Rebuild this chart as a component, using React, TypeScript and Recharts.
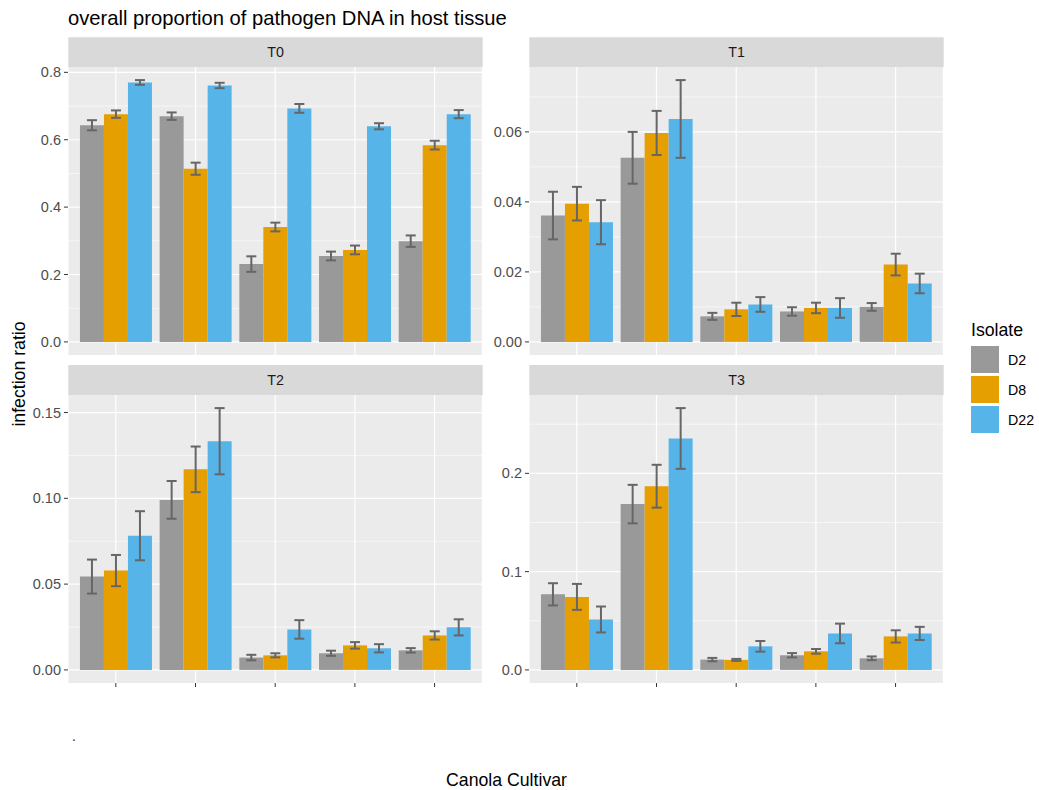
import React from 'react';
import { BarChart, Bar, XAxis, YAxis, CartesianGrid, ErrorBar } from 'recharts';

// ---------- data ----------
const cultivars = ['c1', 'c2', 'c3', 'c4', 'c5'];
const isolates = ['D2', 'D8', 'D22'];
const isolateColors = ['#999999', '#E69F00', '#56B4E9'];
const panelNames = ['T0', 'T1', 'T2', 'T3'];

// T0
const t0D2 = [0.643, 0.670, 0.231, 0.255, 0.299];
const t0D2Err = [0.015, 0.011, 0.023, 0.013, 0.017];
const t0D8 = [0.676, 0.514, 0.341, 0.273, 0.584];
const t0D8Err = [0.011, 0.018, 0.013, 0.013, 0.013];
const t0D22 = [0.770, 0.761, 0.693, 0.640, 0.676];
const t0D22Err = [0.007, 0.008, 0.013, 0.009, 0.012];

// T1
const t1D2 = [0.0361, 0.0526, 0.0073, 0.0087, 0.0100];
const t1D2Err = [0.0068, 0.0074, 0.0010, 0.0012, 0.0011];
const t1D8 = [0.0395, 0.0597, 0.0093, 0.0097, 0.0221];
const t1D8Err = [0.0048, 0.0063, 0.0019, 0.0015, 0.0031];
const t1D22 = [0.0342, 0.0637, 0.0107, 0.0097, 0.0167];
const t1D22Err = [0.0063, 0.0111, 0.0021, 0.0028, 0.0028];

// T2
const t2D2 = [0.0544, 0.0991, 0.0072, 0.0097, 0.0114];
const t2D2Err = [0.0099, 0.0110, 0.0016, 0.0015, 0.0013];
const t2D8 = [0.0579, 0.1169, 0.0085, 0.0143, 0.0201];
const t2D8Err = [0.0091, 0.0133, 0.0012, 0.0019, 0.0024];
const t2D22 = [0.0782, 0.1333, 0.0236, 0.0126, 0.0248];
const t2D22Err = [0.0143, 0.0193, 0.0054, 0.0024, 0.0047];

// T3
const t3D2 = [0.0769, 0.1687, 0.0105, 0.0149, 0.0118];
const t3D2Err = [0.0113, 0.0196, 0.0017, 0.0022, 0.0019];
const t3D8 = [0.0743, 0.1869, 0.0102, 0.0189, 0.0341];
const t3D8Err = [0.0132, 0.0218, 0.0010, 0.0024, 0.0062];
const t3D22 = [0.0513, 0.2355, 0.0240, 0.0371, 0.0371];
const t3D22Err = [0.0132, 0.0309, 0.0054, 0.0100, 0.0067];

// y ticks
const t0Ticks = [0, 0.2, 0.4, 0.6, 0.8];
const t0TickLabels = ['0.0', '0.2', '0.4', '0.6', '0.8'];
const t1Ticks = [0, 0.02, 0.04, 0.06];
const t1TickLabels = ['0.00', '0.02', '0.04', '0.06'];
const t2Ticks = [0, 0.05, 0.10, 0.15];
const t2TickLabels = ['0.00', '0.05', '0.10', '0.15'];
const t3Ticks = [0, 0.1, 0.2];
const t3TickLabels = ['0.0', '0.1', '0.2'];

const titleText = 'overall proportion of pathogen DNA in host tissue';
const yTitle = 'infection ratio';
const xTitle = 'Canola Cultivar';
const legendTitle = 'Isolate';
const captionText = '.';

// ---------- helpers ----------
const FONT = '"Liberation Sans", Arial, Helvetica, sans-serif';

function buildRows(d2: number[], d2e: number[], d8: number[], d8e: number[], d22: number[], d22e: number[]) {
  return cultivars.map((c, i) => ({
    cultivar: c,
    D2: d2[i], D2e: d2e[i],
    D8: d8[i], D8e: d8e[i],
    D22: d22[i], D22e: d22e[i],
  }));
}

const panels = [
  { name: panelNames[0], rows: buildRows(t0D2, t0D2Err, t0D8, t0D8Err, t0D22, t0D22Err), ticks: t0Ticks, labels: t0TickLabels, left: 68.3, top: 67.3, bottomRow: false },
  { name: panelNames[1], rows: buildRows(t1D2, t1D2Err, t1D8, t1D8Err, t1D22, t1D22Err), ticks: t1Ticks, labels: t1TickLabels, left: 529.3, top: 67.3, bottomRow: false },
  { name: panelNames[2], rows: buildRows(t2D2, t2D2Err, t2D8, t2D8Err, t2D22, t2D22Err), ticks: t2Ticks, labels: t2TickLabels, left: 68.3, top: 395, bottomRow: true },
  { name: panelNames[3], rows: buildRows(t3D2, t3D2Err, t3D8, t3D8Err, t3D22, t3D22Err), ticks: t3Ticks, labels: t3TickLabels, left: 529.3, top: 395, bottomRow: true },
];

const PANEL_W = 414.4;
const PANEL_H = 288;
const STRIP_H = 30;
const AXIS_W = 60;
const XAXIS_H = 10;
const TOP_PAD = 12;

function Panel({ p }: { p: typeof panels[number] }) {
  let maxV = 0;
  p.rows.forEach((r: any) => {
    isolates.forEach((k) => {
      maxV = Math.max(maxV, r[k] + r[k + 'e']);
    });
  });
  const domain: [number, number] = [-maxV * 0.05, maxV * 1.05];
  const step = p.ticks[1] - p.ticks[0];
  const minor = p.ticks.map((t) => t + step / 2).filter((v) => v < domain[1]);
  const labelOf = (v: number) => {
    const idx = p.ticks.findIndex((t) => Math.abs(t - v) < 1e-9);
    return idx >= 0 ? p.labels[idx] : '';
  };
  const h = PANEL_H + TOP_PAD + (p.bottomRow ? XAXIS_H : 0);
  return (
    <div style={{ position: 'absolute', left: p.left - AXIS_W, top: p.top - TOP_PAD, width: PANEL_W + AXIS_W, height: h }}>
      <BarChart
        width={PANEL_W + AXIS_W}
        height={h}
        data={p.rows}
        margin={{ top: TOP_PAD, right: 0, bottom: 0, left: 0 }}
        barCategoryGap="5%"
        barGap={0}
      >
        <CartesianGrid fill="#EBEBEB" stroke="#FFFFFF" strokeWidth={0.6} vertical={false} horizontalValues={minor} />
        <CartesianGrid stroke="#FFFFFF" strokeWidth={1.2} fillOpacity={0} horizontalValues={p.ticks} />
        <XAxis
          dataKey="cultivar"
          hide={!p.bottomRow}
          height={XAXIS_H}
          padding={{ left: PANEL_W / 52, right: PANEL_W / 52 }}
          axisLine={false}
          tickLine={{ stroke: '#333333', strokeWidth: 1 }}
          tickSize={4}
          tickFormatter={() => ''}
          interval={0}
        />
        <YAxis
          width={AXIS_W}
          domain={domain}
          ticks={p.ticks}
          allowDataOverflow
          axisLine={false}
          tickLine={{ stroke: '#333333', strokeWidth: 1 }}
          tickSize={4}
          tickMargin={3}
          tickFormatter={labelOf}
          tick={{ fill: '#4D4D4D', fontSize: 14.5, fontFamily: FONT }}
          interval={0}
        />
        {isolates.map((k, i) => (
          <Bar key={k} dataKey={k} fill={isolateColors[i]} isAnimationActive={false}>
            <ErrorBar dataKey={k + 'e'} width={5} stroke="#666666" strokeWidth={2} direction="y" />
          </Bar>
        ))}
      </BarChart>
    </div>
  );
}

export default function App() {
  return (
    <div style={{ position: 'absolute', left: 0, top: 0, width: 1039, height: 790, background: '#FFFFFF', overflow: 'hidden', fontFamily: FONT }}>
      <svg width={1039} height={790} style={{ position: 'absolute', left: 0, top: 0 }}>
        <text x={68} y={25} fontSize={20.2} fill="#000000" fontFamily={FONT}>{titleText}</text>
        {panels.map((p) => (
          <g key={p.name}>
            <rect x={p.left} y={p.top - STRIP_H} width={PANEL_W} height={STRIP_H} fill="#D9D9D9" />
            <text x={p.left + PANEL_W / 2} y={p.top - STRIP_H / 2 + 5} fontSize={14.2} fill="#1A1A1A" textAnchor="middle" fontFamily={FONT}>{p.name}</text>
          </g>
        ))}
        <text transform="translate(24.5,374) rotate(-90)" fontSize={17.7} fill="#000000" textAnchor="middle" fontFamily={FONT}>{yTitle}</text>
        <text x={506.5} y={786} fontSize={17.7} fill="#000000" textAnchor="middle" fontFamily={FONT}>{xTitle}</text>
        <text x={72} y={741} fontSize={14} fill="#333333" fontFamily={FONT}>{captionText}</text>
        <text x={971} y={336} fontSize={17.7} fill="#000000" fontFamily={FONT}>{legendTitle}</text>
        {isolates.map((k, i) => (
          <g key={k}>
            <rect x={971} y={346 + i * 30} width={28} height={27} fill={isolateColors[i]} />
            <text x={1008} y={346 + i * 30 + 18.5} fontSize={14.2} fill="#000000" fontFamily={FONT}>{k}</text>
          </g>
        ))}
      </svg>
      {panels.map((p) => (
        <Panel key={p.name} p={p} />
      ))}
    </div>
  );
}
